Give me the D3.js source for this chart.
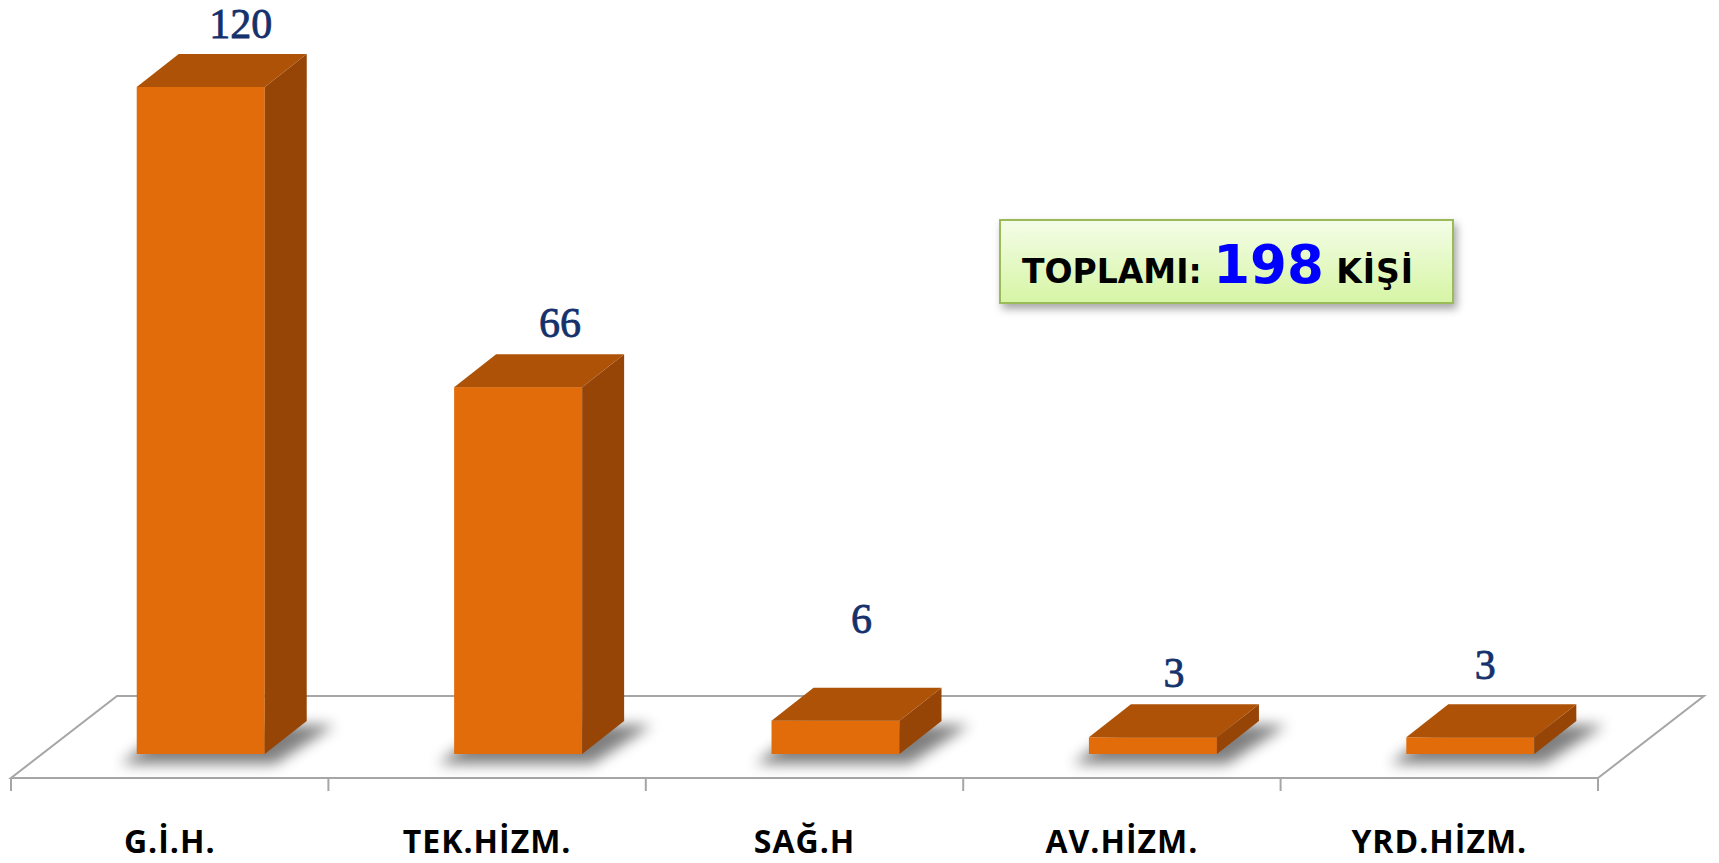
<!DOCTYPE html>
<html>
<head>
<meta charset="utf-8">
<script src="https://cdn.jsdelivr.net/npm/d3@7"></script>
<style>
  body { margin: 0; background: #fff; }
  svg { display: block; }
</style>
</head>
<body>
<div id="main"></div>
<script>
// data
var categories = ["G.İ.H.", "TEK.HİZM.", "SAĞ.H", "AV.HİZM.", "YRD.HİZM."];
var values = [120, 66, 6, 3, 3];
var totalLabel = ["TOPLAMI:", "198", "KİŞİ"];

var ctx = {
    w: 1719,
    h: 863,
    floorLeft: 11,
    floorRight: 1598,
    floorFront: 778,
    floorDX: 106,     // depth of the floor, to the back
    floorDY: 82,
    barInset: 24,     // bar front sits this far back into the floor
    barDX: 42,        // depth of a bar
    barDY: 33,
    barWidth: 128,
    yTop: 87,
    tick: 13,
    front: "#e36c0a",
    top: "#ad5206",
    side: "#964507",
    // the value labels were moved by hand in the original
    labelNudge: [[-2, 1], [0, 0], [-16, -38], [-21, 0], [-27, -8]]
};

var createChart = function(svg){
    var x = d3.scaleBand()
              .domain(categories)
              .range([ctx.floorLeft, ctx.floorRight]);

    var insetX = ctx.barInset * ctx.floorDX / ctx.floorDY;
    var base = ctx.floorFront - ctx.barInset;

    var y = d3.scaleLinear()
              .domain([0, 120])
              .range([base, ctx.yTop]);

    var defs = svg.append("defs");
    defs.append("filter").attr("id", "blur")
        .attr("x", "-50%").attr("y", "-50%").attr("width", "200%").attr("height", "200%")
        .append("feGaussianBlur").attr("stdDeviation", 7);

    var shadowF = defs.append("filter").attr("id", "boxshadow")
        .attr("x", "-20%").attr("y", "-30%").attr("width", "140%").attr("height", "170%");
    shadowF.append("feDropShadow")
        .attr("dx", 3).attr("dy", 5).attr("stdDeviation", 4)
        .attr("flood-color", "#000").attr("flood-opacity", 0.35);

    var grad = defs.append("linearGradient").attr("id", "boxgrad")
        .attr("x1", 0).attr("y1", 0).attr("x2", 0).attr("y2", 1);
    grad.append("stop").attr("offset", "0%").attr("stop-color", "#f4fde8");
    grad.append("stop").attr("offset", "100%").attr("stop-color", "#d6f5a4");

    // floor
    var fl = ctx.floorLeft, fr = ctx.floorRight, ff = ctx.floorFront;
    var floorPts = [[fl, ff], [fr, ff], [fr + ctx.floorDX, ff - ctx.floorDY], [fl + ctx.floorDX, ff - ctx.floorDY]];
    svg.append("polygon")
       .attr("points", floorPts.map(function(p){ return p.join(","); }).join(" "))
       .style("fill", "#fff")
       .style("stroke", "#a6a6a6")
       .style("stroke-width", 2);

    // ticks at the category boundaries
    var bounds = categories.map(function(c){ return x(c); }).concat([fr]);
    svg.selectAll("line.tick")
       .data(bounds)
       .enter().append("line")
       .classed("tick", true)
       .attr("x1", function(d){ return d; })
       .attr("x2", function(d){ return d; })
       .attr("y1", ff)
       .attr("y2", ff + ctx.tick)
       .style("stroke", "#a6a6a6")
       .style("stroke-width", 2);

    var rows = categories.map(function(c, i){
        var x0 = x(c) + (x.bandwidth() - ctx.barWidth) / 2 + insetX;
        return { cat: c, value: values[i], x0: x0, x1: x0 + ctx.barWidth, i: i };
    });

    var pts = function(a){ return a.map(function(p){ return p.join(","); }).join(" "); };

    // shadows on the floor
    svg.selectAll("polygon.shadow")
       .data(rows)
       .enter().append("polygon")
       .classed("shadow", true)
       .attr("points", function(d){
           var b = base + 4, dx = ctx.barDX, dy = ctx.barDY;
           return pts([[d.x0 - 16, b + 6], [d.x1 + 10, b + 6], [d.x1 + dx + 28, b - dy], [d.x0 + dx - 6, b - dy]]);
       })
       .style("fill", "#000")
       .style("opacity", 0.5)
       .attr("filter", "url(#blur)");

    var bars = svg.selectAll("g.bar")
                  .data(rows)
                  .enter().append("g")
                  .classed("bar", true);

    bars.append("rect")
        .attr("x", function(d){ return d.x0; })
        .attr("y", function(d){ return y(d.value); })
        .attr("width", ctx.barWidth)
        .attr("height", function(d){ return y(0) - y(d.value); })
        .style("fill", ctx.front);

    bars.append("polygon")
        .attr("points", function(d){
            var t = y(d.value), b = y(0);
            return pts([[d.x1, t], [d.x1 + ctx.barDX, t - ctx.barDY], [d.x1 + ctx.barDX, b - ctx.barDY], [d.x1, b]]);
        })
        .style("fill", ctx.side);

    bars.append("polygon")
        .attr("points", function(d){
            var t = y(d.value);
            return pts([[d.x0, t], [d.x0 + ctx.barDX, t - ctx.barDY], [d.x1 + ctx.barDX, t - ctx.barDY], [d.x1, t]]);
        })
        .style("fill", ctx.top);

    // value labels
    svg.selectAll("text.val")
       .data(rows)
       .enter().append("text")
       .classed("val", true)
       .attr("x", function(d){ return (d.x0 + d.x1) / 2 + ctx.barDX + ctx.labelNudge[d.i][0]; })
       .attr("y", function(d){ return y(d.value) - ctx.barDY - 17 + ctx.labelNudge[d.i][1]; })
       .attr("text-anchor", "middle")
       .style("font-family", "'Liberation Serif', serif")
       .style("font-size", "42px")
       .style("fill", "#14316c")
       .style("stroke", "#14316c")
       .style("stroke-width", 0.8)
       .text(function(d){ return d.value; });

    // category labels
    svg.selectAll("text.cat")
       .data(categories)
       .enter().append("text")
       .classed("cat", true)
       .attr("x", function(d){ return x(d) + x.bandwidth() / 2; })
       .attr("y", 853)
       .attr("text-anchor", "middle")
       .style("font-family", "'Open Sans', sans-serif")
       .style("font-weight", 700)
       .style("font-size", "32px")
       .style("letter-spacing", "1px")
       .style("fill", "#000")
       .text(function(d){ return d; });

    // total box
    var box = svg.append("g").attr("transform", "translate(1000,220)");
    box.append("rect")
       .attr("width", 453)
       .attr("height", 83)
       .style("fill", "url(#boxgrad)")
       .style("stroke", "#9bbb59")
       .style("stroke-width", 2)
       .attr("filter", "url(#boxshadow)");
    var t = box.append("text")
       .attr("x", 22)
       .attr("y", 63)
       .style("font-family", "'DejaVu Sans', sans-serif")
       .style("font-weight", 700)
       .style("font-size", "33px")
       .style("fill", "#000");
    t.append("tspan").text(totalLabel[0] + " ");
    t.append("tspan").style("font-size", "53px").style("fill", "#0000ff").text(totalLabel[1]);
    t.append("tspan").style("letter-spacing", "1px").text(" " + totalLabel[2]);
};

var createViz = function(){
    var svgEl = d3.select("#main").append("svg");
    svgEl.attr("width", ctx.w);
    svgEl.attr("height", ctx.h);
    createChart(svgEl);
};

createViz();
</script>
</body>
</html>
